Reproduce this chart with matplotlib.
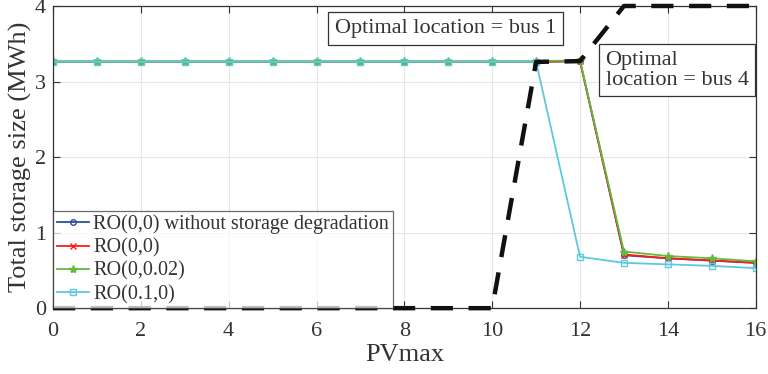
import matplotlib
matplotlib.use("Agg")
import matplotlib.pyplot as plt

pv = list(range(17))
ro_nodeg = [3.26]*12 + [3.27, 0.70, 0.66, 0.63, 0.60]
ro_00 = [3.26]*12 + [3.27, 0.71, 0.66, 0.63, 0.60]
ro_0002 = [3.27]*12 + [3.28, 0.75, 0.69, 0.66, 0.62]
ro_010 = [3.26]*12 + [0.68, 0.60, 0.58, 0.56, 0.53]
loc_x = [0, 10, 11, 12, 13, 16]
loc_y = [0, 0, 3.26, 3.27, 4.0, 4.0]

plt.rcParams['font.family'] = ['Liberation Serif', 'DejaVu Serif']
fig = plt.figure(figsize=(7.68, 3.74), dpi=100)
ax = fig.add_axes([0.069, 0.176, 0.915, 0.808])
tc = '#333333'

ax.plot(pv, ro_nodeg, color='#2c4ea3', marker='o', ms=4, mfc='none', lw=1.3,
        label='RO(0,0) without storage degradation')
ax.plot(pv, ro_00, color='#ff1a1a', marker='x', ms=4, lw=1.3, label='RO(0,0)')
ax.plot(pv, ro_0002, color='#62bb3b', marker='*', ms=6, lw=1.3, label='RO(0,0.02)')
ax.plot(pv, ro_010, color='#5ec8de', marker='s', ms=4, mfc='none', lw=1.3,
        label='RO(0.1,0)')
ax.plot(loc_x, loc_y, color='#111111', lw=3.2, ls=(0, (5, 3.5)), zorder=4,
        clip_on=False)

ax.set_xlim(0, 16)
ax.set_ylim(0, 4)
ax.set_xticks(range(0, 17, 2))
ax.set_yticks(range(0, 5))
ax.grid(True, color='#e6e6e6', lw=0.8)
ax.set_axisbelow(True)
ax.tick_params(direction='in', top=True, right=True, labelsize=16, colors=tc,
               length=5)
ax.tick_params(axis='x', pad=10)
ax.tick_params(axis='y', pad=5)
for s in ax.spines.values():
    s.set_color(tc)
    s.set_linewidth(0.9)
ax.set_xlabel('PVmax', fontsize=19, color=tc, labelpad=2)
ax.set_ylabel('Total storage size (MWh)', fontsize=19, color=tc, labelpad=2)

leg = ax.legend(loc='lower left', bbox_to_anchor=(0.0, 0.0), fontsize=14.5,
                frameon=True, fancybox=False, handlelength=1.6,
                handletextpad=0.2, borderpad=0.2, labelspacing=0.2,
                borderaxespad=0.0, framealpha=0.72)
leg.set_zorder(5)
leg.get_frame().set_edgecolor(tc)
leg.get_frame().set_linewidth(0.9)
for t in leg.get_texts():
    t.set_color(tc)

bbox = dict(boxstyle='square,pad=0.3', fc='white', ec=tc, lw=0.9)
ax.text(8.94, 3.70, 'Optimal location = bus 1', fontsize=16, color=tc,
        bbox=bbox, va='center', ha='center', zorder=6)
ax.text(12.58, 3.15, 'Optimal\nlocation = bus 4', fontsize=16, color=tc,
        bbox=bbox, va='center', ha='left', linespacing=1.05, zorder=6)

fig.savefig('out.png', dpi=100)
